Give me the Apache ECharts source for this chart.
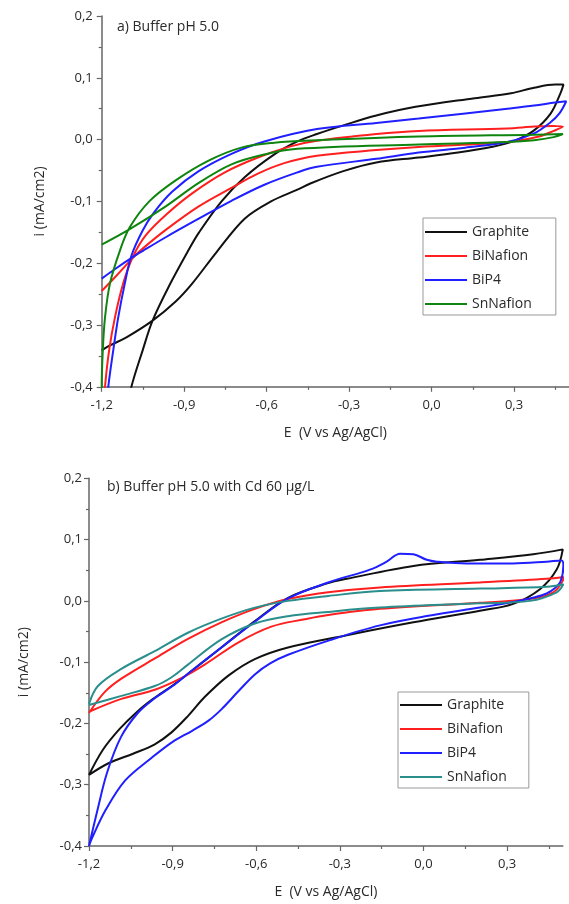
<!DOCTYPE html>
<html>
<head>
<meta charset="utf-8">
<script src="https://cdn.jsdelivr.net/npm/echarts@6/dist/echarts.min.js"></script>
<style>
  html, body { margin: 0; padding: 0; background: #fff; }
  .panel { width: 569px; height: 452px; }
</style>
</head>
<body>
<div id="panelA" class="panel"></div>
<div id="panelB" class="panel"></div>
<script>
// Cyclic voltammograms, [E (V vs Ag/AgCl), i (mA/cm2)] in scan order.

// Panel a) Buffer pH 5.0
const graphiteA = [[-1.2,-0.341],[-1.17,-0.333],[-1.11,-0.32],[-1.015,-0.293],[-0.931,-0.262],[-0.871,-0.233],[-0.782,-0.182],[-0.68,-0.128],[-0.584,-0.1],[-0.488,-0.081],[-0.441,-0.071],[-0.321,-0.051],[-0.201,-0.037],[-0.047,-0.029],[0.096,-0.021],[0.217,-0.012],[0.301,-0.002],[0.373,0.015],[0.433,0.042],[0.468,0.074],[0.48,0.089],[0.45,0.089],[0.373,0.084],[0.289,0.075],[0.157,0.067],[-0.058,0.053],[-0.201,0.039],[-0.321,0.023],[-0.417,0.009],[-0.488,-0.003],[-0.572,-0.024],[-0.68,-0.061],[-0.764,-0.1],[-0.847,-0.151],[-0.883,-0.178],[-0.955,-0.237],[-1.015,-0.293],[-1.051,-0.341],[-1.092,-0.4],[-1.12,-0.46]];
const biNafionA = [[-1.2,-0.245],[-1.15,-0.222],[-1.09,-0.193],[-1.05,-0.176],[-0.967,-0.146],[-0.847,-0.108],[-0.728,-0.078],[-0.632,-0.055],[-0.536,-0.038],[-0.417,-0.026],[-0.201,-0.017],[-0.047,-0.012],[0.276,-0.004],[0.391,0.005],[0.444,0.014],[0.478,0.021],[0.44,0.022],[0.373,0.021],[0.276,0.018],[-0.047,0.014],[-0.201,0.009],[-0.417,-0.002],[-0.513,-0.011],[-0.632,-0.029],[-0.752,-0.053],[-0.871,-0.087],[-0.967,-0.122],[-1.04,-0.155],[-1.087,-0.19],[-1.122,-0.233],[-1.152,-0.288],[-1.173,-0.341],[-1.188,-0.4],[-1.195,-0.45]];
const biP4A = [[-1.2,-0.225],[-1.15,-0.209],[-1.09,-0.191],[-1.05,-0.18],[-0.967,-0.158],[-0.847,-0.128],[-0.728,-0.099],[-0.608,-0.073],[-0.488,-0.053],[-0.417,-0.044],[-0.201,-0.031],[-0.047,-0.021],[0.122,-0.013],[0.276,-0.004],[0.373,0.01],[0.43,0.027],[0.466,0.043],[0.49,0.062],[0.45,0.06],[0.373,0.055],[0.276,0.05],[-0.047,0.034],[-0.201,0.027],[-0.417,0.017],[-0.608,-0.003],[-0.728,-0.023],[-0.847,-0.051],[-0.943,-0.084],[-1.01,-0.118],[-1.051,-0.147],[-1.092,-0.188],[-1.116,-0.233],[-1.14,-0.288],[-1.158,-0.341],[-1.176,-0.4],[-1.185,-0.45]];
const snNafionA = [[-1.2,-0.17],[-1.098,-0.145],[-0.967,-0.108],[-0.847,-0.07],[-0.728,-0.04],[-0.608,-0.024],[-0.488,-0.015],[-0.047,-0.008],[0.276,-0.004],[0.373,-0.001],[0.444,0.004],[0.478,0.009],[0.373,0.008],[-0.047,0.005],[-0.417,-0.001],[-0.572,-0.005],[-0.692,-0.013],[-0.811,-0.034],[-0.931,-0.066],[-1.027,-0.1],[-1.098,-0.142],[-1.134,-0.18],[-1.17,-0.233],[-1.188,-0.288],[-1.196,-0.341],[-1.2,-0.4],[-1.2,-0.45]];

// Panel b) Buffer pH 5.0 with Cd 60 µg/L
const graphiteB = [[-1.2,-0.284],[-1.15,-0.243],[-1.09,-0.209],[-1.03,-0.182],[-0.97,-0.16],[-0.9,-0.138],[-0.845,-0.119],[-0.725,-0.076],[-0.605,-0.033],[-0.486,0.005],[-0.342,0.029],[-0.275,0.036],[-0.036,0.057],[0.203,0.067],[0.394,0.076],[0.5,0.084],[0.478,0.051],[0.418,0.019],[0.322,-0.005],[0.203,-0.016],[-0.036,-0.035],[-0.275,-0.056],[-0.486,-0.076],[-0.605,-0.095],[-0.7,-0.122],[-0.785,-0.157],[-0.845,-0.188],[-0.905,-0.215],[-0.964,-0.234],[-1.04,-0.249],[-1.13,-0.265],[-1.2,-0.284]];
const biNafionB = [[-1.2,-0.183],[-1.144,-0.149],[-1.084,-0.127],[-0.964,-0.094],[-0.845,-0.062],[-0.725,-0.035],[-0.605,-0.013],[-0.486,0.003],[-0.342,0.014],[-0.156,0.022],[0.203,0.03],[0.442,0.036],[0.502,0.039],[0.5,0.033],[0.466,0.014],[0.382,0.003],[0.203,-0.003],[-0.156,-0.013],[-0.342,-0.023],[-0.426,-0.03],[-0.546,-0.042],[-0.665,-0.068],[-0.785,-0.104],[-0.869,-0.126],[-0.964,-0.145],[-1.084,-0.16],[-1.2,-0.181]];
const biP4B = [[-1.2,-0.4],[-1.17,-0.342],[-1.135,-0.28],[-1.085,-0.222],[-1.025,-0.183],[-0.97,-0.161],[-0.9,-0.139],[-0.845,-0.119],[-0.725,-0.076],[-0.605,-0.034],[-0.486,0.004],[-0.342,0.03],[-0.192,0.051],[-0.132,0.064],[-0.084,0.077],[-0.036,0.076],[0.012,0.067],[0.048,0.064],[0.155,0.061],[0.322,0.061],[0.442,0.064],[0.496,0.066],[0.502,0.057],[0.492,0.032],[0.47,0.02],[0.442,0.012],[0.4,0.006],[0.322,-0.002],[0.203,-0.011],[0.024,-0.024],[-0.156,-0.04],[-0.335,-0.064],[-0.486,-0.088],[-0.55,-0.102],[-0.605,-0.12],[-0.665,-0.148],[-0.725,-0.177],[-0.77,-0.195],[-0.83,-0.212],[-0.9,-0.23],[-0.975,-0.256],[-1.07,-0.293],[-1.14,-0.341],[-1.19,-0.388],[-1.2,-0.4]];
const snNafionB = [[-1.2,-0.168],[-1.168,-0.139],[-1.084,-0.111],[-0.964,-0.082],[-0.845,-0.052],[-0.725,-0.029],[-0.605,-0.011],[-0.486,0.0],[-0.342,0.008],[-0.156,0.016],[0.203,0.02],[0.442,0.023],[0.502,0.027],[0.478,0.014],[0.382,0.0],[0.203,-0.004],[-0.156,-0.011],[-0.342,-0.018],[-0.486,-0.025],[-0.605,-0.037],[-0.725,-0.063],[-0.845,-0.104],[-0.905,-0.125],[-0.964,-0.139],[-1.084,-0.155],[-1.2,-0.17]];

const seriesNames = ['Graphite', 'BiNafion', 'BiP4', 'SnNafion'];
const xTickValues = [-1.2, -0.9, -0.6, -0.3, 0.0, 0.3];
const yTickValues = [-0.4, -0.3, -0.2, -0.1, 0.0, 0.1, 0.2];
const titleA = 'a) Buffer pH 5.0';
const titleB = 'b) Buffer pH 5.0 with Cd 60 µg/L';
const xName = 'E  (V vs Ag/AgCl)';
const yName = 'i (mA/cm2)';

const FONT = '"Open Sans", Lato, sans-serif';
const AXIS_COLOR = '#666';
const TEXT_COLOR = '#2a2a2a';

const commaFmt = v => (Math.abs(v) < 1e-9 ? 0 : v).toFixed(1).replace('.', ',');

function buildOption(cfg) {
  const labelStyle = { color: TEXT_COLOR, fontSize: 13, fontFamily: FONT };
  return {
    animation: false,
    backgroundColor: '#fff',
    title: {
      text: cfg.title, left: cfg.titleLeft, top: cfg.titleTop, padding: 0,
      textStyle: { fontSize: 14, fontWeight: 'normal', color: TEXT_COLOR, fontFamily: FONT }
    },
    grid: { left: cfg.gridLeft, top: cfg.gridTop, width: 473.8, height: 370.8, containLabel: false },
    legend: {
      orient: 'vertical', left: cfg.legendLeft, top: cfg.legendTop,
      padding: cfg.legendPadding, itemWidth: 42, itemHeight: 14, itemGap: 10,
      borderColor: '#999', borderWidth: 1, backgroundColor: '#fff',
      icon: 'path://M0,6 L42,6 L42,8 L0,8 Z',
      textStyle: { color: TEXT_COLOR, fontSize: 14, fontFamily: FONT },
      data: seriesNames, selectedMode: false
    },
    xAxis: {
      type: 'value', min: -1.2, max: 0.5, interval: 0.3,
      name: xName, nameLocation: 'middle', nameGap: 39,
      nameTextStyle: { color: TEXT_COLOR, fontSize: 14, fontFamily: FONT },
      axisLine: { show: true, onZero: false, lineStyle: { color: AXIS_COLOR, width: 1.5 } },
      axisTick: { show: true, inside: false, length: 5, customValues: xTickValues, lineStyle: { color: AXIS_COLOR, width: 1.2 } },
      minorTick: { show: true, splitNumber: 2, length: 3, lineStyle: { color: AXIS_COLOR, width: 1.2 } },
      axisLabel: Object.assign({ customValues: xTickValues, formatter: commaFmt, margin: 12 }, labelStyle),
      splitLine: { show: false }, minorSplitLine: { show: false }
    },
    yAxis: {
      type: 'value', min: -0.4, max: 0.2, interval: 0.1,
      name: yName, nameLocation: 'middle', nameGap: cfg.yNameGap, nameRotate: 90,
      nameTextStyle: { color: TEXT_COLOR, fontSize: 14, fontFamily: FONT },
      axisLine: { show: true, onZero: false, lineStyle: { color: AXIS_COLOR, width: 1.5 } },
      axisTick: { show: true, inside: false, length: 5, customValues: yTickValues, lineStyle: { color: AXIS_COLOR, width: 1.2 } },
      minorTick: { show: true, splitNumber: 2, length: 3, lineStyle: { color: AXIS_COLOR, width: 1.2 } },
      axisLabel: Object.assign({ customValues: yTickValues, formatter: commaFmt, margin: cfg.yLabelMargin }, labelStyle),
      splitLine: { show: false }, minorSplitLine: { show: false }
    },
    series: cfg.data.map((d, k) => ({
      name: seriesNames[k], type: 'line', data: d,
      showSymbol: false, symbol: 'none', smooth: 0.35, clip: true,
      lineStyle: { color: cfg.colors[k], width: 2 },
      itemStyle: { color: cfg.colors[k] }
    }))
  };
}

const chartA = echarts.init(document.getElementById('panelA'), null, { renderer: 'canvas' });
chartA.setOption(buildOption({
  title: titleA, titleLeft: 117, titleTop: 20,
  gridLeft: 101.7, gridTop: 16,
  yNameGap: 55, yLabelMargin: 9,
  legendLeft: 423, legendTop: 218, legendPadding: [7, 24, 4, 2],
  colors: ['#111111', '#ff1f1f', '#1f1fff', '#0f850f'],
  data: [graphiteA, biNafionA, biP4A, snNafionA]
}));

const chartB = echarts.init(document.getElementById('panelB'), null, { renderer: 'canvas' });
chartB.setOption(buildOption({
  title: titleB, titleLeft: 107, titleTop: 28,
  gridLeft: 89, gridTop: 26.3,
  yNameGap: 58, yLabelMargin: 7,
  legendLeft: 398, legendTop: 240, legendPadding: [6, 22, 4, 2],
  colors: ['#111111', '#ff1f1f', '#1f1fff', '#2a8f8c'],
  data: [graphiteB, biNafionB, biP4B, snNafionB]
}));
</script>
</body>
</html>
